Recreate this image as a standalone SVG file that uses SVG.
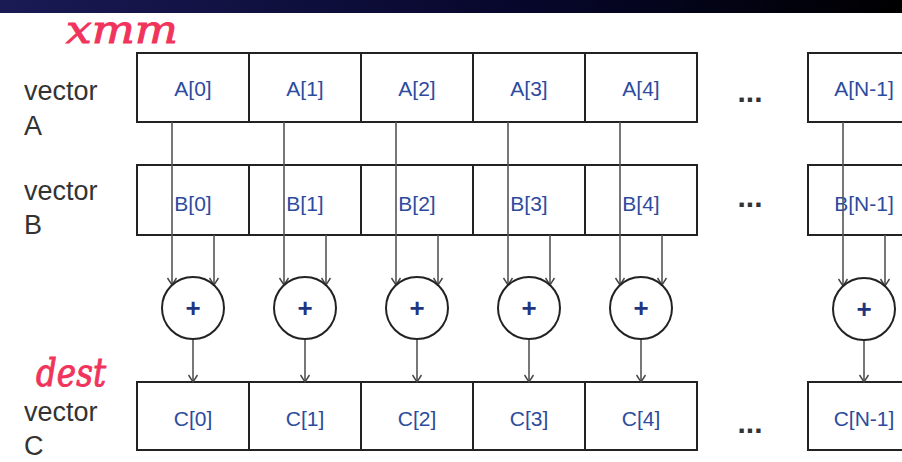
<svg xmlns="http://www.w3.org/2000/svg" width="902" height="462" viewBox="0 0 902 462">
<defs>
<linearGradient id="bar" x1="0" y1="0" x2="1" y2="0">
<stop offset="0" stop-color="#1a1a55"/>
<stop offset="0.6" stop-color="#06062a"/>
<stop offset="1" stop-color="#000000"/>
</linearGradient>
<marker id="arr" markerUnits="userSpaceOnUse" markerWidth="12" markerHeight="12" refX="10" refY="6" viewBox="0 0 12 12" orient="auto">
<path d="M3,1.5 L10,6 L3,10.5" fill="none" stroke="#444" stroke-width="1.4"/>
</marker>
<style>
.cell{fill:#fff;stroke:#222;stroke-width:2}
.lbl{font-family:"Liberation Sans",Arial,sans-serif;font-size:21px;fill:#2d4b9e;text-anchor:middle}
.vec{font-family:"Liberation Sans",Arial,sans-serif;font-size:27px;fill:#333}
.op{fill:#fff;stroke:#222;stroke-width:2}
.plus{font-family:"Liberation Sans",Arial,sans-serif;font-size:26px;font-weight:bold;fill:#1f3580;text-anchor:middle}
.dots{font-family:"Liberation Sans",Arial,sans-serif;font-size:30px;font-weight:bold;fill:#333;text-anchor:middle}
.hand{font-family:"DejaVu Serif",serif;font-style:italic;fill:#f0345c;stroke:#f0345c;stroke-width:1}
.conn{stroke:#555;stroke-width:1.6;fill:none}
</style>
</defs>
<rect x="0" y="0" width="902" height="462" fill="#fff"/>
<rect x="0" y="0" width="902" height="13" fill="url(#bar)"/>

<text class="hand" x="66" y="43" font-size="40" textLength="112" lengthAdjust="spacingAndGlyphs">xmm</text>
<text class="hand" x="36" y="386" font-size="40" textLength="70" lengthAdjust="spacingAndGlyphs">dest</text>

<g id="labels">
<text class="vec" x="24" y="100">vector</text>
<text class="vec" x="24" y="135">A</text>
<text class="vec" x="24" y="200">vector</text>
<text class="vec" x="24" y="234">B</text>
<text class="vec" x="24" y="421">vector</text>
<text class="vec" x="24" y="455">C</text>
<text class="dots" x="750" y="102">...</text>
<text class="dots" x="750" y="207">...</text>
<text class="dots" x="750" y="433">...</text>
</g>

<g id="vecA">
<rect class="cell" x="137" y="53" width="112" height="69"/>
<rect class="cell" x="249" y="53" width="112" height="69"/>
<rect class="cell" x="361" y="53" width="112" height="69"/>
<rect class="cell" x="473" y="53" width="112" height="69"/>
<rect class="cell" x="585" y="53" width="112" height="69"/>
<rect class="cell" x="808" y="53" width="112" height="69"/>
<text class="lbl" x="193" y="96">A[0]</text>
<text class="lbl" x="305" y="96">A[1]</text>
<text class="lbl" x="417" y="96">A[2]</text>
<text class="lbl" x="529" y="96">A[3]</text>
<text class="lbl" x="641" y="96">A[4]</text>
<text class="lbl" x="864" y="96">A[N-1]</text>
</g>

<g id="vecB">
<rect class="cell" x="137" y="165" width="112" height="70"/>
<rect class="cell" x="249" y="165" width="112" height="70"/>
<rect class="cell" x="361" y="165" width="112" height="70"/>
<rect class="cell" x="473" y="165" width="112" height="70"/>
<rect class="cell" x="585" y="165" width="112" height="70"/>
<rect class="cell" x="808" y="165" width="112" height="70"/>
<text class="lbl" x="193" y="211">B[0]</text>
<text class="lbl" x="305" y="211">B[1]</text>
<text class="lbl" x="417" y="211">B[2]</text>
<text class="lbl" x="529" y="211">B[3]</text>
<text class="lbl" x="641" y="211">B[4]</text>
<text class="lbl" x="864" y="211">B[N-1]</text>
</g>

<g id="vecC">
<rect class="cell" x="137" y="382" width="112" height="68"/>
<rect class="cell" x="249" y="382" width="112" height="68"/>
<rect class="cell" x="361" y="382" width="112" height="68"/>
<rect class="cell" x="473" y="382" width="112" height="68"/>
<rect class="cell" x="585" y="382" width="112" height="68"/>
<rect class="cell" x="808" y="382" width="112" height="68"/>
<text class="lbl" x="193" y="426">C[0]</text>
<text class="lbl" x="305" y="426">C[1]</text>
<text class="lbl" x="417" y="426">C[2]</text>
<text class="lbl" x="529" y="426">C[3]</text>
<text class="lbl" x="641" y="426">C[4]</text>
<text class="lbl" x="864" y="426">C[N-1]</text>
</g>

<g id="connectors">
<g class="conn" marker-end="url(#arr)">
<path d="M172,122 V285"/><path d="M214,235 V285"/><path d="M193,339 V382"/>
<path d="M284,122 V285"/><path d="M326,235 V285"/><path d="M305,339 V382"/>
<path d="M396,122 V285"/><path d="M438,235 V285"/><path d="M417,339 V382"/>
<path d="M508,122 V285"/><path d="M550,235 V285"/><path d="M529,339 V382"/>
<path d="M620,122 V285"/><path d="M662,235 V285"/><path d="M641,339 V382"/>
<path d="M843,122 V286"/><path d="M885,235 V286"/><path d="M864,340 V382"/>
</g>
</g>

<g id="adders">
<g id="add0"><circle class="op" cx="193" cy="308" r="31"/><text class="plus" x="193" y="317">+</text></g>
<g id="add1"><circle class="op" cx="305" cy="308" r="31"/><text class="plus" x="305" y="317">+</text></g>
<g id="add2"><circle class="op" cx="417" cy="308" r="31"/><text class="plus" x="417" y="317">+</text></g>
<g id="add3"><circle class="op" cx="529" cy="308" r="31"/><text class="plus" x="529" y="317">+</text></g>
<g id="add4"><circle class="op" cx="641" cy="308" r="31"/><text class="plus" x="641" y="317">+</text></g>
<g id="addN"><circle class="op" cx="864" cy="309" r="31"/><text class="plus" x="864" y="318">+</text></g>
</g>
</svg>
